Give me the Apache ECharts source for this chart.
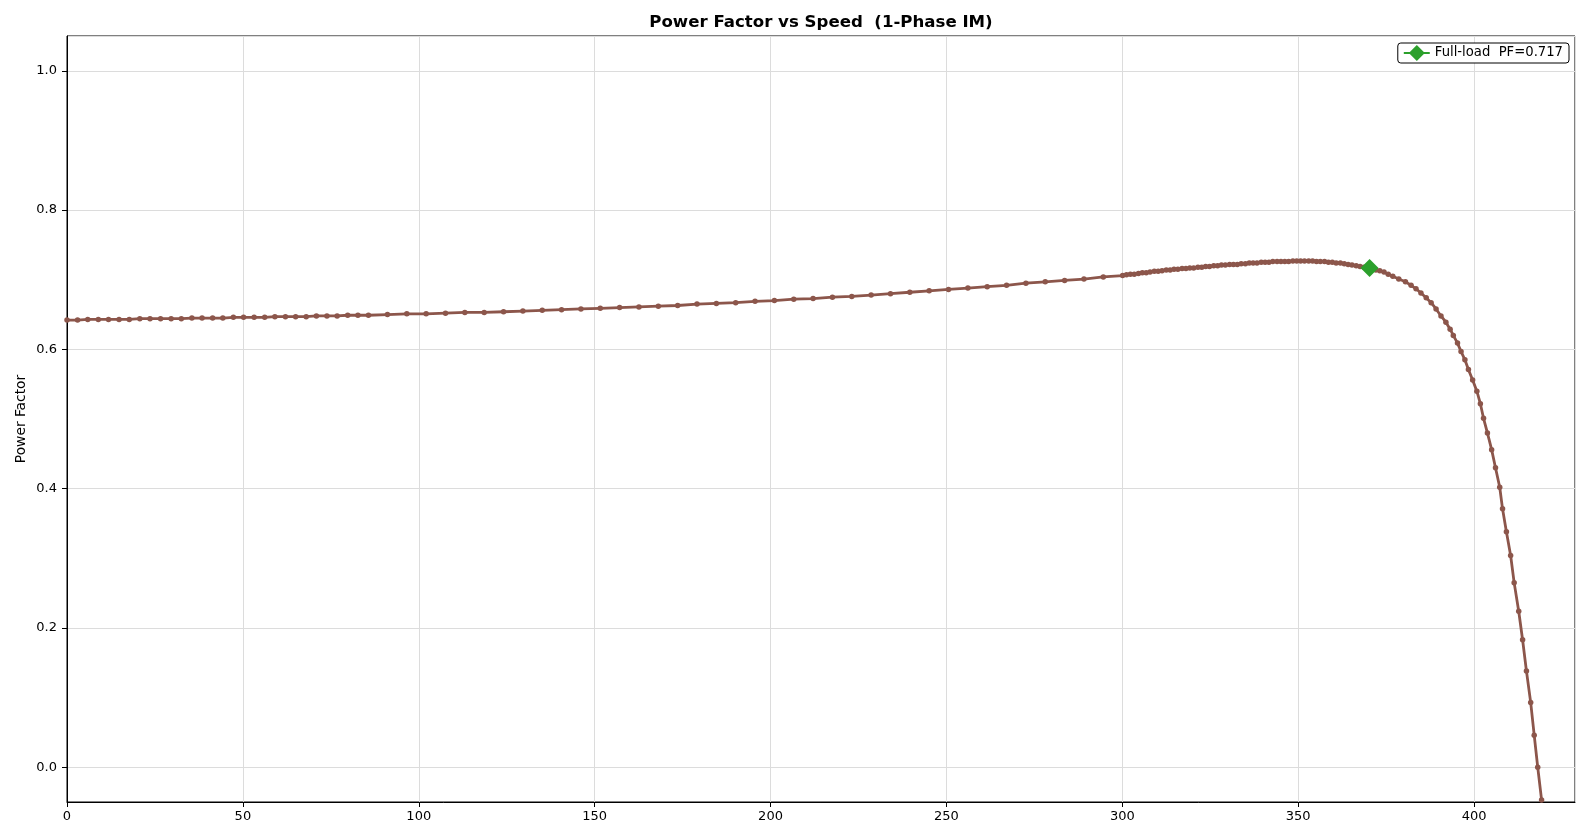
<!DOCTYPE html>
<html>
<head>
<meta charset="utf-8">
<script src="https://cdn.jsdelivr.net/npm/echarts@6/dist/echarts.min.js"></script>
<style>
html,body{margin:0;padding:0;background:#fff;}
#chart{width:1585px;height:829px;}
</style>
</head>
<body>
<div id="chart"></div>
<script>
// Speed values (x)
const speed = [
  0, 3.0, 5.9, 8.9, 11.8, 14.8, 17.7, 20.7, 23.6, 26.6, 29.6, 32.5, 35.5, 38.4, 41.4,
  44.3, 47.3, 50.2, 53.2, 56.2, 59.1, 62.1, 65.0, 68.0, 70.9, 73.9, 76.8, 79.8, 82.7, 85.7,
  91.1, 96.6, 102.1, 107.6, 113.1, 118.6, 124.1, 129.6, 135.1, 140.6, 146.1, 151.6, 157.1,
  162.6, 168.1, 173.6, 179.1, 184.6, 190.1, 195.6, 201.1, 206.6, 212.1, 217.6, 223.1, 228.6,
  234.1, 239.6, 245.1, 250.6, 256.1, 261.6, 267.1, 272.6, 278.1, 283.6, 289.1, 294.6, 300.1,
  301.2, 302.3, 303.4, 304.6, 305.7, 306.8, 307.9, 309.1, 310.2, 311.3, 312.5, 313.6, 314.7,
  315.8, 317.0, 318.1, 319.2, 320.3, 321.5, 322.6, 323.7, 324.8, 326.0, 327.1, 328.2, 329.3,
  330.5, 331.6, 332.7, 333.8, 335.0, 336.1, 337.2, 338.3, 339.5, 340.6, 341.7, 342.8, 344.0,
  345.1, 346.2, 347.3, 348.5, 349.6, 350.7, 351.8, 353.0, 354.1, 355.2, 356.3, 357.5, 358.6,
  359.7, 360.8, 362.0, 363.1, 364.2, 365.3, 366.5, 367.6, 368.7, 369.8, 371.0, 372.1, 373.2,
  374.4, 375.6, 376.9, 378.6, 380.5, 382.1, 383.5, 384.9, 386.4, 387.8, 389.2, 390.6, 392.0,
  393.2, 394.1, 395.3, 396.3, 397.4, 398.4, 399.6, 400.8, 401.8, 402.7, 403.8, 405.0, 406.1,
  407.3, 408.1, 409.2, 410.4, 411.4, 412.7, 413.8, 414.9, 416.1, 417.1, 418.1, 419.2
];
// Power factor values (y)
const powerFactor = [
  0.642, 0.642, 0.643, 0.643, 0.643, 0.643, 0.643, 0.644, 0.644, 0.644, 0.644, 0.644, 0.645, 0.645, 0.645,
  0.645, 0.646, 0.646, 0.646, 0.646, 0.647, 0.647, 0.647, 0.647, 0.648, 0.648, 0.648, 0.649, 0.649, 0.649,
  0.650, 0.651, 0.651, 0.652, 0.653, 0.653, 0.654, 0.655, 0.656, 0.657, 0.658, 0.659, 0.660,
  0.661, 0.662, 0.663, 0.665, 0.666, 0.667, 0.669, 0.670, 0.672, 0.673, 0.675, 0.676, 0.678,
  0.680, 0.682, 0.684, 0.686, 0.688, 0.690, 0.692, 0.695, 0.697, 0.699, 0.701, 0.704, 0.706,
  0.707, 0.708, 0.708, 0.709, 0.710, 0.710, 0.711, 0.712, 0.712, 0.713, 0.714, 0.714, 0.715,
  0.715, 0.716, 0.716, 0.717, 0.717, 0.718, 0.718, 0.719, 0.719, 0.720, 0.720, 0.721, 0.721,
  0.722, 0.722, 0.722, 0.723, 0.723, 0.724, 0.724, 0.724, 0.725, 0.725, 0.725, 0.726, 0.726,
  0.726, 0.726, 0.726, 0.727, 0.727, 0.727, 0.727, 0.727, 0.727, 0.726, 0.726, 0.726, 0.725,
  0.725, 0.724, 0.724, 0.723, 0.722, 0.721, 0.720, 0.719, 0.718, 0.717, 0.716, 0.714, 0.713,
  0.711, 0.708, 0.705, 0.701, 0.697, 0.692, 0.687, 0.681, 0.674, 0.667, 0.658, 0.648, 0.639,
  0.629, 0.620, 0.609, 0.597, 0.585, 0.571, 0.556, 0.540, 0.522, 0.501, 0.480, 0.456, 0.430,
  0.402, 0.371, 0.338, 0.304, 0.265, 0.224, 0.183, 0.138, 0.093, 0.046, 0.000, -0.047
];
// Full-load operating point
const fullLoadSpeed = [370.3];
const fullLoadPF = [0.717];
const fullLoadName = 'Full-load  PF=0.717';
const titleText = 'Power Factor vs Speed  (1-Phase IM)';
const yAxisName = 'Power Factor';

const curveData = speed.map((s, i) => [s, powerFactor[i]]);
const fullLoadData = fullLoadSpeed.map((s, i) => [s, fullLoadPF[i]]);

const FONT = 'DejaVu Sans';
const chart = echarts.init(document.getElementById('chart'), null, {renderer: 'canvas'});
chart.setOption({
  animation: false,
  backgroundColor: '#ffffff',
  textStyle: {fontFamily: FONT},
  title: {
    text: titleText,
    left: 821,
    top: 14,
    padding: 0,
    textAlign: 'center',
    textStyle: {fontFamily: FONT, fontSize: 16.6, fontWeight: 'bold', color: '#000'}
  },
  legend: {
    data: [fullLoadName],
    right: 16,
    top: 43,
    orient: 'vertical',
    padding: [2, 6, 2, 5],
    itemWidth: 26,
    itemHeight: 20,
    itemGap: 6,
    borderColor: '#000',
    borderWidth: 1,
    borderRadius: 3,
    backgroundColor: '#fff',
    textStyle: {fontFamily: FONT, fontSize: 13.2, color: '#000'}
  },
  grid: {
    left: 67, right: 10, top: 36, bottom: 27,
    show: true, borderColor: '#000', borderWidth: 1,
    outerBoundsMode: 'none',
    containLabel: false
  },
  xAxis: {
    type: 'value',
    min: 0,
    max: 428.7,
    interval: 50,
    axisLine: {show: true, onZero: false, lineStyle: {color: '#000', width: 1}},
    axisTick: {show: true, length: 5, lineStyle: {color: '#000'}},
    axisLabel: {showMaxLabel: false, margin: 8, fontFamily: FONT, fontSize: 13, color: '#000'},
    splitLine: {show: true, lineStyle: {color: '#dcdcdc', width: 1}}
  },
  yAxis: {
    type: 'value',
    min: -0.05,
    max: 1.05,
    splitNumber: 5,
    name: yAxisName,
    nameLocation: 'middle',
    nameGap: 39,
    nameMoveOverlap: false,
    nameTextStyle: {fontFamily: FONT, fontSize: 13.8, color: '#000'},
    axisLine: {show: true, onZero: false, lineStyle: {color: '#000', width: 1}},
    axisTick: {show: true, length: 5, lineStyle: {color: '#000'}},
    axisLabel: {
      showMinLabel: false, showMaxLabel: false, margin: 10,
      fontFamily: FONT, fontSize: 13, color: '#000',
      formatter: v => v.toFixed(1)
    },
    splitLine: {show: true, lineStyle: {color: '#dcdcdc', width: 1}}
  },
  series: [
    {
      name: 'PF curve',
      type: 'line',
      data: curveData,
      symbol: 'circle',
      symbolSize: 5.5,
      showSymbol: true,
      showAllSymbol: true,
      lineStyle: {color: '#8c564b', width: 2.8},
      itemStyle: {color: '#8c564b'},
      z: 2
    },
    {
      name: fullLoadName,
      type: 'line',
      data: fullLoadData,
      symbol: 'diamond',
      symbolSize: 18,
      lineStyle: {color: '#2ca02c', width: 2},
      itemStyle: {color: '#2ca02c'},
      z: 5
    }
  ]
});
</script>
</body>
</html>
